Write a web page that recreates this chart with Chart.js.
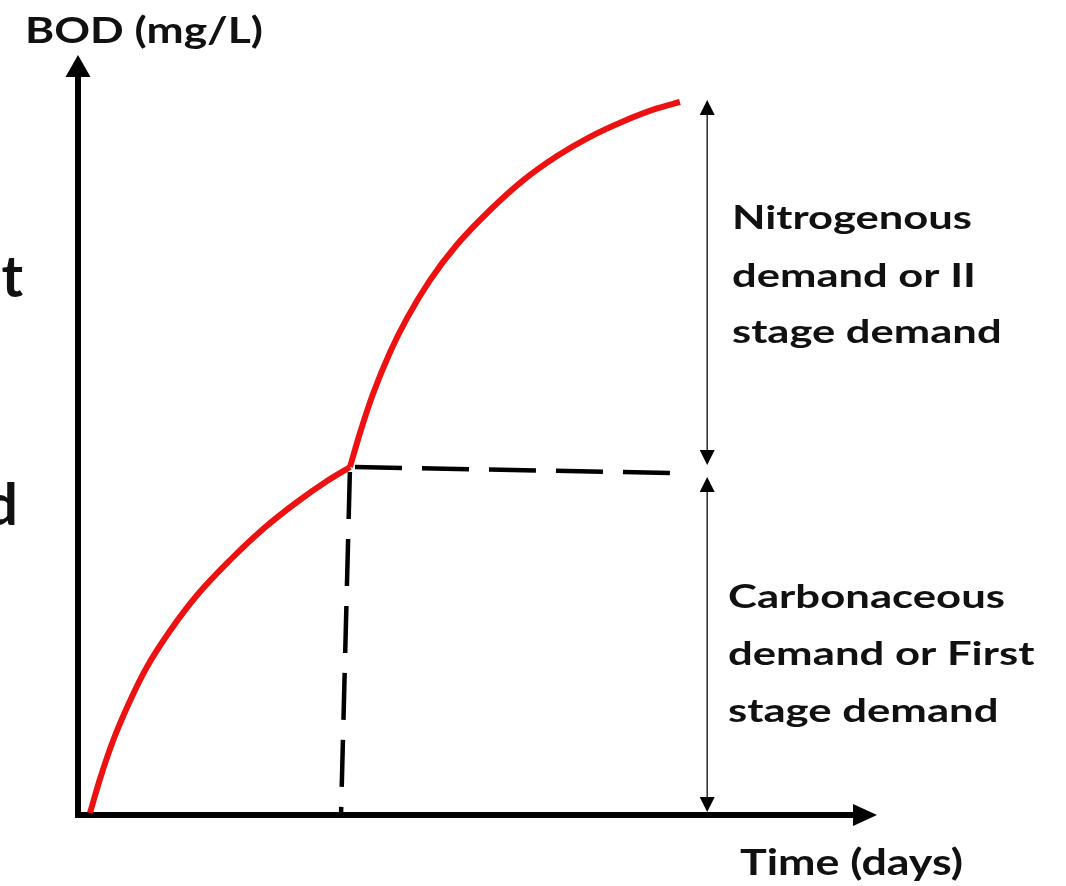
<!DOCTYPE html>
<html>
<head>
<meta charset="utf-8">
<script src="https://cdn.jsdelivr.net/npm/chart.js@4.4.1/dist/chart.umd.min.js"></script>
<style>
  html, body { margin: 0; padding: 0; background: #fff; }
  canvas { display: block; }
</style>
</head>
<body>
<canvas id="bodChart" width="1066" height="886"></canvas>
<script>
// first stage (carbonaceous) curve
const days1 = [0.36, 0.66, 1.05, 1.56, 2.07, 2.76, 3.58, 4.57, 5.56, 6.58, 7.48, 8.17];
const bod1  = [1, 18, 37, 57, 74, 92, 110, 127.5, 143, 156.5, 167, 174];

// second stage (nitrogenous) curve
const days2 = [8.17, 8.47, 8.86, 9.37, 9.88, 10.57, 11.38, 12.38, 13.37, 14.39, 15.38, 16.37, 17.39, 18.08];
const bod2  = [174, 191, 210.5, 231.3, 248.3, 267.3, 285.1, 302.5, 317.3, 329.5, 339.1, 346.8, 353.3, 356.5];

// dashed guide lines from the knee
const hDashDays = [8.17, 17.84];
const hDashBod  = [174, 171];
const vDashDays = [8.17, 7.9];
const vDashBod  = [174, 0];

// double headed arrows on the right
const arrowDay = 18.9;
const upperArrow = [357.5, 175];
const lowerArrow = [169, 1.5];

const xMax = 24;
const yMax = 380;

const yTitle = 'BOD (mg/L)';
const xTitle = 'Time (days)';
const upperLabel = ['Nitrogenous', 'demand or II', 'stage demand'];
const lowerLabel = ['Carbonaceous', 'demand or First', 'stage demand'];

function pts(xs, ys) {
    return xs.map((v, i) => ({ x: v, y: ys[i] }));
}

const FONT = 'Lato, "Open Sans", sans-serif';

// draws lines of bold text, stretched so the first line hits a given width
function drawBlock(ctx, lines, x, baselines, size, firstWidth) {
    ctx.font = 'bold ' + size + 'px ' + FONT;
    const sx = firstWidth / ctx.measureText(lines[0]).width;
    ctx.save();
    ctx.translate(x, 0);
    ctx.scale(sx, 1);
    ctx.textAlign = 'left';
    ctx.textBaseline = 'alphabetic';
    lines.forEach((l, i) => ctx.fillText(l, 0, baselines[i]));
    ctx.restore();
}

function arrowHead(ctx, px, py, dir, half, len) {
    // dir: 1 = pointing down, -1 = pointing up
    ctx.beginPath();
    ctx.moveTo(px, py);
    ctx.lineTo(px - half, py - dir * len);
    ctx.lineTo(px + half, py - dir * len);
    ctx.closePath();
    ctx.fill();
}

const axesPlugin = {
    id: 'axes',
    beforeDatasetsDraw(chart) {
        const { ctx, scales: { x, y } } = chart;
        const x0 = x.getPixelForValue(0), y0 = y.getPixelForValue(0);
        const xe = x.getPixelForValue(xMax), ye = y.getPixelForValue(yMax);
        ctx.save();
        ctx.strokeStyle = '#000';
        ctx.fillStyle = '#000';
        ctx.lineWidth = 6;
        ctx.lineCap = 'butt';

        // y axis
        ctx.beginPath();
        ctx.moveTo(x0, y0 + 3);
        ctx.lineTo(x0, ye + 18);
        ctx.stroke();
        ctx.beginPath();
        ctx.moveTo(x0, ye);
        ctx.lineTo(x0 - 12.5, ye + 22);
        ctx.lineTo(x0 + 12.5, ye + 22);
        ctx.closePath();
        ctx.fill();

        // x axis
        ctx.beginPath();
        ctx.moveTo(x0 - 3, y0);
        ctx.lineTo(xe - 18, y0);
        ctx.stroke();
        ctx.beginPath();
        ctx.moveTo(xe, y0);
        ctx.lineTo(xe - 24, y0 - 11);
        ctx.lineTo(xe - 24, y0 + 11);
        ctx.closePath();
        ctx.fill();
        ctx.restore();
    },
    afterDraw(chart) {
        const { ctx, scales: { x, y } } = chart;
        ctx.save();

        // double arrows
        const ax = x.getPixelForValue(arrowDay);
        ctx.strokeStyle = '#333';
        ctx.fillStyle = '#000';
        ctx.lineWidth = 1.6;
        [upperArrow, lowerArrow].forEach(a => {
            const top = y.getPixelForValue(a[0]);
            const bot = y.getPixelForValue(a[1]);
            ctx.beginPath();
            ctx.moveTo(ax, top + 10);
            ctx.lineTo(ax, bot - 10);
            ctx.stroke();
            arrowHead(ctx, ax, top, -1, 7.5, 15);
            arrowHead(ctx, ax, bot, 1, 7.5, 15);
        });

        // texts
        ctx.fillStyle = '#111';
        drawBlock(ctx, [yTitle], 25, [43], 37, 238);
        drawBlock(ctx, [xTitle], 740, [875], 37, 223);
        drawBlock(ctx, upperLabel, 732, [229, 287, 343], 32, 240);
        drawBlock(ctx, lowerLabel, 728, [608, 665, 722], 32, 277);

        // leftovers of a cut-off label at the left edge
        ctx.font = 'bold 58px ' + FONT;
        ctx.textAlign = 'right';
        ctx.fillText('t', 23, 297);
        ctx.fillText('d', 18, 525);
        ctx.restore();
    }
};

const ctx = document.getElementById('bodChart').getContext('2d');

const redLine = {
    showLine: true,
    borderColor: '#ee1111',
    borderWidth: 6,
    pointRadius: 0,
    cubicInterpolationMode: 'monotone',
    clip: false
};
const dashLine = {
    showLine: true,
    borderColor: '#000',
    borderWidth: 4.5,
    borderDash: [47, 20],
    borderDashOffset: 62,
    pointRadius: 0,
    tension: 0,
    clip: false
};

const myChart = new Chart(ctx, {
    type: 'scatter',
    data: {
        datasets: [
            Object.assign({ label: 'h', data: pts(hDashDays, hDashBod), order: 3 }, dashLine),
            Object.assign({ label: 'v', data: pts(vDashDays, vDashBod), order: 3 }, dashLine),
            Object.assign({ label: 'First stage', data: pts(days1, bod1), order: 1 }, redLine),
            Object.assign({ label: 'Second stage', data: pts(days2, bod2), order: 1 }, redLine)
        ]
    },
    options: {
        responsive: false,
        animation: false,
        devicePixelRatio: 1,
        layout: {
            padding: { left: 78, right: 189, top: 55, bottom: 71 }
        },
        scales: {
            x: { type: 'linear', min: 0, max: xMax, display: false },
            y: { type: 'linear', min: 0, max: yMax, display: false }
        },
        plugins: {
            legend: { display: false },
            tooltip: { enabled: false },
            title: { display: false }
        }
    },
    plugins: [axesPlugin]
});
</script>
</body>
</html>
